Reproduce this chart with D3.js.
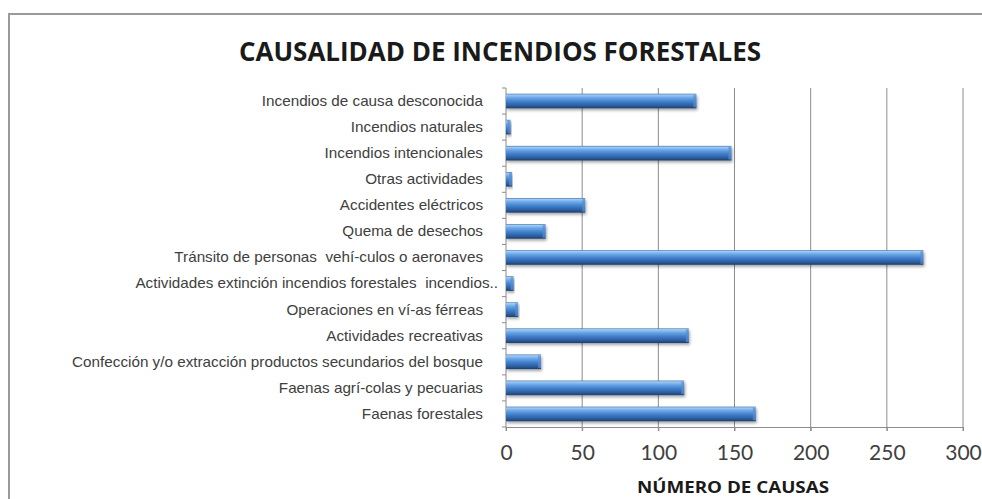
<!DOCTYPE html>
<html>
<head>
<meta charset="utf-8">
<script src="https://cdn.jsdelivr.net/npm/d3@7"></script>
<style>
  body { margin: 0; background: #fff; }
  .cat text { font-family: "Liberation Sans", Arial, sans-serif; font-size: 14px; fill: #404040; white-space: pre; }
  .xaxis text { font-family: Lato, "Open Sans", sans-serif; font-size: 21px; fill: #404040; }
  .title { font-family: "Open Sans", Lato, sans-serif; font-weight: bold; font-size: 26px; fill: #1a1a1a; }
  .xtitle { font-family: "Open Sans", Lato, sans-serif; font-weight: bold; font-size: 16px; fill: #1a1a1a; }
</style>
</head>
<body>
<div id="chart"></div>
<script>
const categories = [
  "Incendios de causa desconocida",
  "Incendios naturales",
  "Incendios intencionales",
  "Otras actividades",
  "Accidentes eléctricos",
  "Quema de desechos",
  "Tránsito de personas  vehí-culos o aeronaves",
  "Actividades extinción incendios forestales  incendios..",
  "Operaciones en ví-as férreas",
  "Actividades recreativas",
  "Confección y/o extracción productos secundarios del bosque",
  "Faenas agrí-colas y pecuarias",
  "Faenas forestales"
]
const values = [125, 3, 148, 4, 52, 26, 274, 5, 8, 120, 23, 117, 164]
const xTicks = [0, 50, 100, 150, 200, 250, 300]

const width = 982
const height = 499
const margin = {top: 88, right: 19, bottom: 72, left: 506}
const chartWidth = width - margin.left - margin.right
const chartHeight = height - margin.top - margin.bottom

const svg = d3.select('#chart').append('svg')
  .attr('width', width)
  .attr('height', height)

// bar shading
const defs = svg.append('defs')
const grad = defs.append('linearGradient')
  .attr('id', 'barGrad')
  .attr('x1', 0).attr('x2', 0).attr('y1', 0).attr('y2', 1)
const stops = [[0, '#3d6fa9'], [0.08, '#a2ccf6'], [0.28, '#6aa5e6'], [0.55, '#3f7ecb'], [0.82, '#2c5d9c'], [1, '#1c3e6c']]
stops.forEach(s => grad.append('stop').attr('offset', s[0]).attr('stop-color', s[1]))

const shadow = defs.append('filter').attr('id', 'shadow').attr('x', -0.1).attr('y', -0.5).attr('width', 1.2).attr('height', 2)
shadow.append('feGaussianBlur').attr('in', 'SourceAlpha').attr('stdDeviation', 1.5)
shadow.append('feOffset').attr('dx', 1).attr('dy', 2).attr('result', 'b')
shadow.append('feComponentTransfer').append('feFuncA').attr('type', 'linear').attr('slope', 0.35)
const merge = shadow.append('feMerge')
merge.append('feMergeNode')
merge.append('feMergeNode').attr('in', 'SourceGraphic')

// outer frame
svg.append('path')
  .attr('d', `M9,${height + 2}V14H${width + 2}`)
  .attr('fill', 'none')
  .attr('stroke', '#9a9a9a')
  .attr('stroke-width', 2)

svg.append('text')
  .attr('class', 'title')
  .attr('x', 500)
  .attr('y', 61)
  .attr('text-anchor', 'middle')
  .attr('textLength', 522)
  .attr('lengthAdjust', 'spacingAndGlyphs')
  .text('CAUSALIDAD DE INCENDIOS FORESTALES')

const g = svg.append('g').attr('transform', `translate(${margin.left},${margin.top})`)

const xScale = d3.scaleLinear().domain([0, 300]).range([0, chartWidth])
const yScale = d3.scaleBand().domain(categories).range([0, chartHeight]).paddingInner(0.44).paddingOuter(0.22)

// gridlines
g.append('g').selectAll('line')
  .data(xTicks.slice(1))
  .join('line')
  .attr('x1', d => xScale(d)).attr('x2', d => xScale(d))
  .attr('y1', 0).attr('y2', chartHeight + 4)
  .attr('stroke', '#8c8c8c')
  .attr('stroke-width', 1)

// bottom axis
const xAxis = g.append('g')
  .attr('class', 'xaxis')
  .attr('transform', `translate(0,${chartHeight})`)
  .call(d3.axisBottom(xScale).tickValues(xTicks).tickSize(4).tickPadding(14))
xAxis.select('.domain').attr('stroke', '#8c8c8c')
xAxis.selectAll('.tick line').attr('stroke', '#8c8c8c')

// left axis
const bandStep = chartHeight / categories.length
const yAxis = g.append('g').attr('class', 'cat')
yAxis.append('line')
  .attr('x1', 0).attr('x2', 0).attr('y1', 0).attr('y2', chartHeight + 4)
  .attr('stroke', '#8c8c8c')
yAxis.selectAll('.ytick')
  .data(d3.range(categories.length + 1))
  .join('line')
  .attr('class', 'ytick')
  .attr('x1', -4).attr('x2', 0)
  .attr('y1', d => d * bandStep).attr('y2', d => d * bandStep)
  .attr('stroke', '#8c8c8c')
yAxis.selectAll('text')
  .data(categories)
  .join('text')
  .attr('transform', (d, i) => `translate(${i == 7 ? -8 : -23},${yScale(d) + yScale.bandwidth() / 2}) scale(1.09,1)`)
  .attr('dy', '0.35em')
  .attr('text-anchor', 'end')
  .text(d => d)

// bars
const bars = g.append('g').selectAll('.bar')
  .data(categories.map((c, i) => ({cat: c, value: values[i]})))
  .join('g')
  .attr('class', 'bar')
  .attr('filter', 'url(#shadow)')

bars.append('rect')
  .attr('x', 0)
  .attr('y', d => yScale(d.cat))
  .attr('width', d => xScale(d.value))
  .attr('height', yScale.bandwidth())
  .attr('fill', 'url(#barGrad)')

bars.append('rect')
  .attr('x', d => Math.max(0, xScale(d.value) - 3))
  .attr('y', d => yScale(d.cat) + 1)
  .attr('width', d => Math.min(3, xScale(d.value)))
  .attr('height', yScale.bandwidth() - 2)
  .attr('fill', '#5a8fcf')
  .attr('opacity', 0.7)

svg.append('text')
  .attr('class', 'xtitle')
  .attr('x', 733)
  .attr('y', 493)
  .attr('text-anchor', 'middle')
  .attr('textLength', 192)
  .attr('lengthAdjust', 'spacingAndGlyphs')
  .text('NÚMERO DE CAUSAS')
</script>
</body>
</html>
